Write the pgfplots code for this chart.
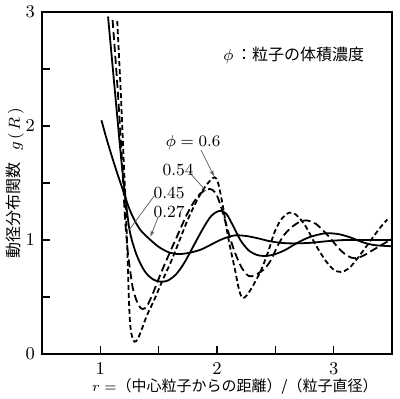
\documentclass[border=0pt]{standalone}
\usepackage{pgfplots}
\pgfplotsset{compat=1.18}
\usepackage{fontspec}
\usetikzlibrary{arrows.meta}
\newfontfamily\jp{Noto Sans CJK JP}
\begin{document}
\begin{tikzpicture}
\begin{axis}[
  scale only axis, width=175pt, height=171pt,
  xmin=0.5, xmax=3.5, ymin=0, ymax=3,
  xtick={1,2,3}, ytick={0,1,2,3},
  minor xtick={1.5,2.5}, minor ytick={0.5,1.5,2.5},
  tick align=inside, tick pos=left,
  major tick length=4pt, minor tick length=4pt,
  axis line style={line width=0.7pt},
  every tick/.style={black, line width=0.6pt},
  ticklabel style={font=\fontsize{9.5}{10}\selectfont},
  xticklabel shift=1pt,
  clip mode=individual,
]
% phi = 0.27
\addplot[black, line width=0.9pt, smooth, tension=0.5] coordinates {
(1.01,2.05) (1.05,1.90) (1.10,1.73) (1.15,1.57) (1.20,1.42) (1.25,1.27) (1.30,1.16) (1.35,1.08) (1.43,1.00) (1.50,0.94) (1.58,0.895) (1.66,0.877) (1.75,0.885) (1.86,0.915) (1.95,0.96) (2.05,1.01) (2.15,1.04) (2.25,1.035) (2.35,1.015) (2.45,0.99) (2.55,0.975) (2.65,0.97) (2.8,0.975) (2.95,0.99) (3.1,1.0) (3.3,1.0) (3.5,1.0)};
% phi = 0.45
\addplot[black, line width=0.9pt, smooth, tension=0.5] coordinates {
(1.066,2.96) (1.13,2.25) (1.18,1.70) (1.21,1.42) (1.25,1.09) (1.30,0.90) (1.35,0.78) (1.40,0.70) (1.46,0.65) (1.52,0.634) (1.58,0.645) (1.65,0.70) (1.72,0.80) (1.80,0.95) (1.88,1.10) (1.95,1.21) (2.02,1.255) (2.08,1.23) (2.15,1.10) (2.20,1.00) (2.27,0.91) (2.34,0.87) (2.40,0.86) (2.48,0.87) (2.58,0.91) (2.68,0.97) (2.78,1.02) (2.88,1.05) (2.95,1.06) (3.05,1.05) (3.15,1.02) (3.25,0.98) (3.35,0.955) (3.5,0.945)};
% phi = 0.54
\addplot[black, line width=0.9pt, smooth, tension=0.5, dash pattern=on 4pt off 2pt] coordinates {
(1.105,2.93) (1.15,2.30) (1.19,1.62) (1.21,1.22) (1.235,0.90) (1.26,0.70) (1.28,0.57) (1.31,0.47) (1.34,0.41) (1.365,0.395) (1.40,0.42) (1.45,0.53) (1.52,0.71) (1.60,0.90) (1.67,1.06) (1.74,1.22) (1.80,1.33) (1.86,1.41) (1.92,1.445) (1.96,1.44) (2.00,1.39) (2.05,1.24) (2.10,1.06) (2.15,0.90) (2.21,0.76) (2.27,0.685) (2.32,0.69) (2.40,0.74) (2.46,0.82) (2.52,0.95) (2.58,1.05) (2.65,1.12) (2.72,1.165) (2.78,1.17) (2.85,1.14) (2.95,1.04) (3.05,0.92) (3.12,0.86) (3.18,0.84) (3.25,0.86) (3.35,0.92) (3.5,1.01)};
% phi = 0.6
\addplot[black, line width=0.9pt, smooth, tension=0.5, dash pattern=on 2.5pt off 1.5pt] coordinates {
(1.145,2.92) (1.175,2.30) (1.20,1.70) (1.222,1.18) (1.235,0.80) (1.245,0.48) (1.255,0.27) (1.27,0.16) (1.293,0.108) (1.32,0.13) (1.36,0.23) (1.40,0.34) (1.46,0.47) (1.535,0.65) (1.61,0.82) (1.68,1.00) (1.75,1.18) (1.82,1.33) (1.88,1.44) (1.94,1.52) (1.98,1.55) (2.01,1.50) (2.05,1.30) (2.10,1.00) (2.15,0.76) (2.19,0.56) (2.22,0.49) (2.26,0.52) (2.32,0.62) (2.38,0.74) (2.44,0.90) (2.49,1.06) (2.55,1.18) (2.62,1.24) (2.68,1.22) (2.76,1.12) (2.85,0.95) (2.93,0.82) (3.00,0.74) (3.06,0.72) (3.13,0.75) (3.22,0.86) (3.32,1.00) (3.40,1.11) (3.46,1.18)};

% annotations
\node[font=\fontsize{8}{9}\selectfont] at (axis cs:2.658,2.623) {$\phi$\,{\jp ：粒子の体積濃度}};
\node[font=\fontsize{8.5}{9}\selectfont] at (axis cs:1.795,1.851) {$\phi=0.6$};
\node[font=\fontsize{8.5}{9}\selectfont] at (axis cs:1.667,1.614) {0.54};
\node[font=\fontsize{8.5}{9}\selectfont] at (axis cs:1.59,1.412) {0.45};
\node[font=\fontsize{8.5}{9}\selectfont] at (axis cs:1.59,1.246) {0.27};
\draw[gray!70!black, line width=0.35pt, -{Stealth[length=3pt,width=2pt]}] (axis cs:1.863,1.789) -- (axis cs:1.974,1.56);
\draw[gray!70!black, line width=0.35pt] (axis cs:1.761,1.596) -- (axis cs:1.906,1.43);
\draw[gray!70!black, line width=0.35pt] (axis cs:1.462,1.386) -- (axis cs:1.248,1.09);
\draw[gray!70!black, line width=0.35pt, -{Stealth[length=3pt,width=2pt]}] (axis cs:1.496,1.202) -- (axis cs:1.430,1.03);

\coordinate (yl) at (axis description cs:-0.077,0.5);
\coordinate (xl) at (axis description cs:0.551,-0.096);
\coordinate (bl) at (axis description cs:-0.12,-0.1316);
\coordinate (tr) at (axis description cs:1.0229,1.0351);
\end{axis}
\node[rotate=90, font=\fontsize{8}{9}\selectfont, inner sep=0pt] at (yl) {{\jp 動径分布関数}\ \ $g\,(\,R\,)$};
\node[font=\fontsize{7.5}{9}\selectfont, inner sep=0pt] at (xl) {$r=${\jp （中心粒子からの距離）/（粒子直径）}};
\pgfresetboundingbox
\path[use as bounding box] (bl) rectangle (tr);
\end{tikzpicture}
\end{document}
